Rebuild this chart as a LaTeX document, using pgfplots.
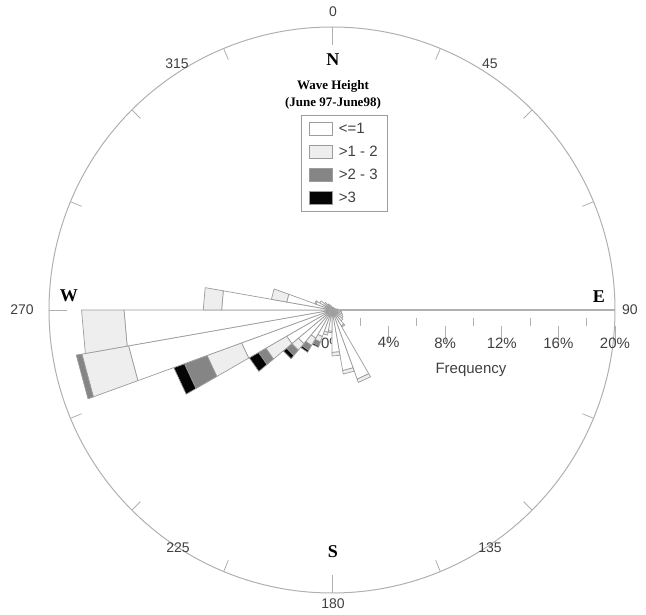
\documentclass[border=0pt]{standalone}
\usepackage{pgfplots}
\pgfplotsset{compat=1.18}
\usepackage{pgfplotstable}
\usepgfplotslibrary{polar}
\usepackage{fontspec}
\setmainfont{Liberation Sans}
\newfontfamily\tnr{Liberation Serif}

\definecolor{edgegray}{HTML}{9C9C9C}
\definecolor{circgray}{HTML}{B0B0B0}
\definecolor{cone}{HTML}{FFFFFF}
\definecolor{ctwo}{HTML}{EEEEEE}
\definecolor{cthree}{HTML}{858585}
\definecolor{cfour}{HTML}{050505}

% sector start bearing (sector = [b, b+10] deg), frequency (%) per wave-height class
\pgfplotstableread{
b    c1    c2    c3    c4
0    0.2   0     0     0
10   0.2   0     0     0
20   0.2   0     0     0
30   0.2   0     0     0
40   0.2   0     0     0
50   0.2   0     0     0
60   0.2   0     0     0
70   0.3   0     0     0
80   0.4   0     0     0
90   0.6   0     0     0
100  0.7   0     0     0
110  0.8   0     0     0
120  0.9   0     0     0
130  1.0   0     0     0
140  1.3   0.1   0     0
150  5.2   0.25  0     0
160  4.35  0.25  0     0
170  3.0   0.25  0     0
180  1.5   0.1   0     0
190  1.6   0.2   0     0
200  2.0   0.4   0.3   0.1
210  2.3   0.6   0.4   0.15
220  3.1   0.6   0.5   0.3
230  3.7   1.7   0.6   0.75
240  6.8   2.6   1.7   0.8
250  14.6  3.35  0.4   0
260  14.7  3.0   0     0
270  7.8   1.3   0     0
280  3.25  1.1   0     0
290  1.2   0.1   0     0
300  1.0   0     0     0
310  0.7   0     0     0
320  0.5   0     0     0
330  0.4   0     0     0
340  0.3   0     0     0
350  0.2   0     0     0
}\wavedata

\newcommand\wedgeseg[5]{%
  \ifdim #4pt>#3pt\relax
    \edef\tmpplot{\noexpand\addplot[forget plot, fill=#5, draw=edgegray, line width=0.7pt, line join=round] coordinates {(#1,#3) (#1,#4) (#2,#4) (#2,#3) (#1,#3)};}%
    \tmpplot
  \fi}

\begin{document}
\begin{tikzpicture}
\pgfplotstablegetrowsof{\wavedata}
\pgfmathtruncatemacro\nrows{\pgfplotsretval-1}
\begin{polaraxis}[
  name=ax,
  at={(0,0)}, anchor=origin,
  scale only axis, width=566pt, height=566pt,
  xmin=0, xmax=360, ymin=0, ymax=20,
  clip=false,
  xtick=\empty,
  ytick={4,8,...,20},
  minor ytick={2,6,...,18},
  extra y ticks={0},
  extra y tick style={major tick length=0pt, yticklabel style={yshift=16pt}},
  yticklabel={\pgfmathprintnumber{\tick}\%},
  /pgf/number format/assume math mode=true,
  yticklabel style={font=\fontsize{15}{18}\selectfont, text=black!75, anchor=north, yshift=-40pt},
  major tick length=16pt, minor tick length=8pt,
  tick align=outside,
  tick style={circgray, line width=0.8pt},
  every major tick/.append style={yshift=-16pt},
  every minor tick/.append style={yshift=-8pt},
  axis line style={circgray, line width=1pt},
  xmajorgrids=false, ymajorgrids=false,
  set layers,
  legend style={at={(0.445,0.845)}, anchor=north west, draw=edgegray, line width=0.8pt,
    font=\fontsize{15}{17}\selectfont, row sep=7pt, inner xsep=8pt, inner ysep=6pt,
    cells={anchor=west}, text=black!75},
  legend cell align=left,
  legend image code/.code={\draw[#1, line width=0.7pt] (0pt,-6.5pt) rectangle (23pt,6.5pt);},
]
\draw[circgray, line width=0.8pt] (axis cs:0,0) -- (axis cs:0,20);
\pgfplotsinvokeforeach{0,90,180,270}{\draw[circgray, line width=0.8pt] (axis cs:#1,20) -- (axis cs:#1,18.73);}
\pgfplotsinvokeforeach{22.5,45,67.5,112.5,135,157.5,202.5,225,247.5,292.5,315,337.5}{\draw[circgray, line width=0.8pt] (axis cs:#1,20) -- (axis cs:#1,19.15);}

\addlegendimage{fill=cone, draw=edgegray}
\addlegendimage{fill=ctwo, draw=edgegray}
\addlegendimage{fill=cthree, draw=edgegray}
\addlegendimage{fill=cfour, draw=edgegray}
\legend{\hspace{4pt}<=1, \hspace{4pt}>1 - 2, \hspace{4pt}>2 - 3, \hspace{4pt}>3}

\foreach \i in {0,...,\nrows}{%
  \pgfplotstablegetelem{\i}{b}\of\wavedata \pgfmathsetmacro\aA{80-\pgfplotsretval}%
  \pgfmathsetmacro\aB{\aA+10}%
  \pgfplotstablegetelem{\i}{c1}\of\wavedata \pgfmathsetmacro\rA{\pgfplotsretval}%
  \pgfplotstablegetelem{\i}{c2}\of\wavedata \pgfmathsetmacro\rB{\rA+\pgfplotsretval}%
  \pgfplotstablegetelem{\i}{c3}\of\wavedata \pgfmathsetmacro\rC{\rB+\pgfplotsretval}%
  \pgfplotstablegetelem{\i}{c4}\of\wavedata \pgfmathsetmacro\rD{\rC+\pgfplotsretval}%
  \wedgeseg{\aA}{\aB}{0}{\rA}{cone}%
  \wedgeseg{\aA}{\aB}{\rA}{\rB}{ctwo}%
  \wedgeseg{\aA}{\aB}{\rB}{\rC}{cthree}%
  \wedgeseg{\aA}{\aB}{\rC}{\rD}{cfour}%
}
\coordinate (C) at (axis cs:0,0);
\end{polaraxis}

\begin{scope}[font=\fontsize{14}{16}\selectfont, text=black!75]
\node at ([shift={(1pt,298pt)}]C) {0};
\node at ([shift={(158pt,246pt)}]C) {45};
\node at ([shift={(298pt,0pt)}]C) {90};
\node at ([shift={(158pt,-238pt)}]C) {135};
\node at ([shift={(1pt,-294pt)}]C) {180};
\node at ([shift={(-154pt,-238pt)}]C) {225};
\node at ([shift={(-310pt,0pt)}]C) {270};
\node at ([shift={(-155pt,246pt)}]C) {315};
\node[font=\fontsize{15}{18}\selectfont] at ([shift={(139pt,-60pt)}]C) {Frequency};
\end{scope}
\begin{scope}[font=\fontsize{18}{20}\tnr\bfseries]
\node at ([shift={(1pt,250pt)}]C) {N};
\node at ([shift={(1pt,-242pt)}]C) {S};
\node at ([shift={(-263pt,14pt)}]C) {W};
\node at ([shift={(267pt,13pt)}]C) {E};
\end{scope}
\begin{scope}[font=\fontsize{13}{15}\tnr\bfseries]
\node at ([shift={(1pt,224pt)}]C) {Wave Height};
\node at ([shift={(1pt,207pt)}]C) {(June 97-June98)};
\end{scope}
\pgfresetboundingbox
\path[use as bounding box] ([shift={(-332pt,-305pt)}]C) rectangle ([shift={(314pt,310pt)}]C);
\end{tikzpicture}
\end{document}
